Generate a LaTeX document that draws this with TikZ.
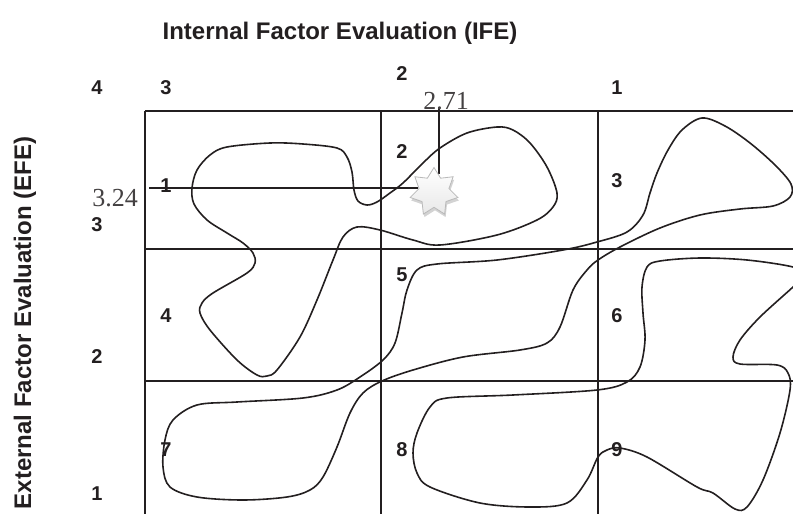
\documentclass[tikz,border=0pt]{standalone}
\usepackage{fontspec}
\setmainfont{Liberation Sans}
\newfontfamily\seriffont{Liberation Serif}
\usetikzlibrary{shapes.geometric,shadows}
\definecolor{ink}{HTML}{231F20}
\begin{document}
\begin{tikzpicture}[x=1pt,y=-1pt,
  lbl/.style={font=\fontsize{20}{20}\selectfont\bfseries, text=ink, inner sep=0},
  ttl/.style={font=\fontsize{24}{24}\selectfont\bfseries, text=ink, inner sep=0},
  val/.style={font=\seriffont\fontsize{26}{26}\selectfont, text=ink!85, inner sep=0},
  gridline/.style={draw=ink, line width=2pt},
  blob/.style={draw=ink, line width=1.6pt},
  guide/.style={draw=ink, line width=1.3pt},
  starmark/.style={star, star points=7, star point ratio=1.6, minimum size=49pt, inner sep=0pt,
    draw=gray!55, line width=0.8pt, top color=white, bottom color=gray!18,
    drop shadow={shadow xshift=1pt, shadow yshift=-3pt, opacity=0.35}}]
\useasboundingbox (0,0) rectangle (793,514);
\begin{scope}
\clip (0,0) rectangle (793,514);
% grid
\draw[gridline] (145,111) -- (800,111);
\draw[gridline] (145,249) -- (800,249);
\draw[gridline] (145,381) -- (800,381);
\draw[gridline] (145,111) -- (145,520);
\draw[gridline] (381,111) -- (381,520);
\draw[gridline] (598,111) -- (598,520);
% blob A
\draw[blob] plot[smooth cycle, tension=0.55] coordinates {
 (197,170) (210,155) (227,147) (270,143) (303,144) (337,148) (347,157) (352,172) (354,190)
 (358,201) (367,205) (377,202) (390,193) (403,183) (423,163) (440,148) (467,133) (497,127)
 (513,130) (530,143) (547,167) (557,193) (553,207) (537,220) (497,235) (440,245) (413,240)
 (380,230) (357,227) (343,237) (333,260) (317,300) (300,337) (277,370) (267,376) (257,375)
 (237,360) (210,330) (200,313) (202,303) (213,293) (247,273) (255,263) (253,253) (243,243)
 (227,233) (207,220) (194,204) (192,188)};
% blob B
\draw[blob] plot[smooth cycle, tension=0.55] coordinates {
 (702,118) (725,126) (750,143) (775,165) (791,184) (790,197) (773,206) (740,209) (700,215)
 (660,228) (620,247) (598,260) (587,270) (573,290) (560,327) (547,343) (520,350) (463,357)
 (413,370) (382,381) (363,393) (350,413) (337,447) (323,477) (310,490) (287,497) (243,500)
 (197,497) (170,487) (163,467) (165,440) (173,420) (197,405) (237,402) (303,398) (337,390)
 (360,377) (383,360) (395,343) (402,313) (407,290) (417,270) (437,264) (497,260) (563,250)
 (597,242) (627,232) (643,215) (650,193) (657,173) (668,150) (682,130)};
% blob C
\draw[blob] plot[smooth cycle, tension=0.55] coordinates {
 (647,267) (660,261) (700,258) (747,260) (793,267) (805,275) (793,287) (760,317) (740,340)
 (733,357) (740,364) (777,365) (788,373) (790,390) (780,433) (763,480) (747,507) (735,509)
 (713,493) (697,487) (647,457) (620,448) (607,450) (598,457) (587,480) (567,503) (530,507)
 (480,503) (430,487) (417,473) (413,453) (417,433) (430,407) (447,398) (513,395) (597,390)
 (627,382) (640,367) (645,340) (643,313) (642,287)};
\end{scope}
% guide lines to the star
\coordinate (h0) at (149,188);
\coordinate (h1) at (418,188);
\coordinate (v0) at (439,107);
\coordinate (v1) at (439,174);
\draw[guide] (h0) -- (h1);
\draw[guide] (v0) -- (v1);
\node[starmark] (st) at (434,192) {};
\node[val] (x271) at (446,101) {2.71};
\node[val] (y324) at (115,198) {3.24};
% titles
\node[ttl] (ife) at (340,33) {Internal Factor Evaluation (IFE)};
\node[ttl, rotate=90] (efe) at (25,323) {External Factor Evaluation (EFE)};
% axis numbers
\node[lbl] (t4) at (97,88) {4};
\node[lbl] (t3) at (166,88) {3};
\node[lbl] (t2) at (402,74) {2};
\node[lbl] (t1) at (617,88) {1};
\node[lbl] (l3) at (97,225) {3};
\node[lbl] (l2) at (97,357) {2};
\node[lbl] (l1) at (97,494) {1};
% cell numbers
\node[lbl] (c1) at (166,186) {1};
\node[lbl] (c2) at (402,152) {2};
\node[lbl] (c3) at (617,181) {3};
\node[lbl] (c4) at (166,316) {4};
\node[lbl] (c5) at (402,275) {5};
\node[lbl] (c6) at (617,316) {6};
\node[lbl] (c7) at (166,450) {7};
\node[lbl] (c8) at (402,450) {8};
\node[lbl] (c9) at (617,450) {9};
\end{tikzpicture}
\end{document}
